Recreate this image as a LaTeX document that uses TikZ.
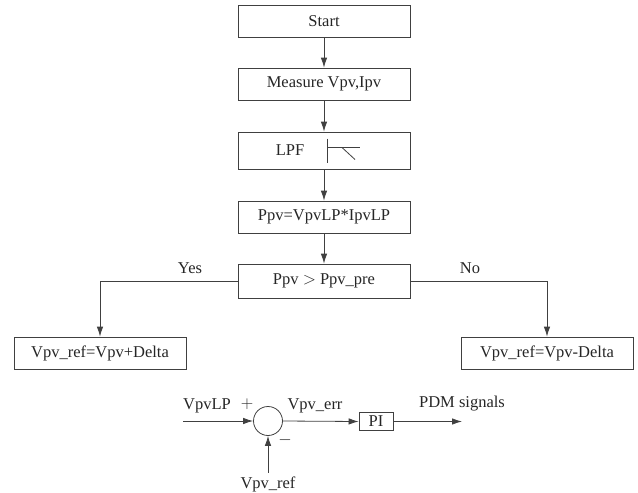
\documentclass[tikz,border=0pt]{standalone}
\usepackage{fontspec}
\setmainfont{Liberation Serif}
\usetikzlibrary{arrows.meta}
\begin{document}
\begin{tikzpicture}[x=1pt,y=-1pt,
  every node/.style={font=\fontsize{16.5}{18}\selectfont, text=black!85},
  box/.style={draw=black!75, line width=0.8pt, rectangle, minimum width=172pt, minimum height=32pt, inner sep=2pt},
  conn/.style={draw=black!75, line width=0.8pt, -{Latex[length=10pt,width=6.5pt]}},
  plain/.style={draw=black!75, line width=0.8pt}
]
\useasboundingbox (0,0) rectangle (638,493);
% flowchart
\node[box] (start) at (324,21) {Start};
\node[box] (meas) at (324,84) {Measure Vpv,Ipv};
\node[box, minimum height=37pt] (lpf) at (324,150.5) {LPF\makebox[68pt]{}};
\node[box] (ppv) at (324,217) {Ppv=VpvLP*IpvLP};
\node[box, minimum height=34pt] (dec) at (324,281) {Ppv $>$ Ppv\_pre};
\node[box] (left) at (100,353) {Vpv\_ref=Vpv+Delta};
\node[box] (right) at (547,353) {Vpv\_ref=Vpv-Delta};
% LPF symbol
\draw[plain] ([shift={(3,-12)}]lpf.center) -- ([shift={(3,12)}]lpf.center);
\draw[plain] ([shift={(3,-3)}]lpf.center) -- ([shift={(36,-3)}]lpf.center);
\draw[plain] ([shift={(18,-3)}]lpf.center) -- ([shift={(31,9)}]lpf.center);
% connectors
\draw[conn] (start) -- (meas);
\draw[conn] (meas) -- (lpf);
\draw[conn] (lpf) -- (ppv);
\draw[conn] (ppv) -- (dec);
\draw[conn] (dec.west) -| (left.north);
\draw[conn] (dec.east) -| (right.north);
\node (yes) at (190,268) {Yes};
\node (no) at (470,268) {No};
% control loop
\node[circle, draw=black!75, line width=0.8pt, minimum size=29pt, inner sep=0pt] (sum) at (268,421) {};
\coordinate (vin) at (183,421);
\node (vpvlp) at (207,406) {VpvLP};
\node (plus) at (247,404) {$+$};
\node (minus) at (285,440) {$-$};
\node (err) at (315,406) {Vpv\_err};
\node[draw=black!75, line width=0.8pt, minimum width=34pt, minimum height=18pt, inner sep=1pt] (pi) at (376,421.5) {PI};
\coordinate (out) at (462,421.5);
\node (pdm) at (462,404) {PDM signals};
\node (vref) at (268,484) {Vpv\_ref};
\draw[conn] (vin) -- (sum.west);
\draw[conn] (sum.east) -- (pi.west);
\draw[conn] (pi.east) -- (out);
\draw[conn] (vref.north) -- (sum.south);
\end{tikzpicture}
\end{document}
